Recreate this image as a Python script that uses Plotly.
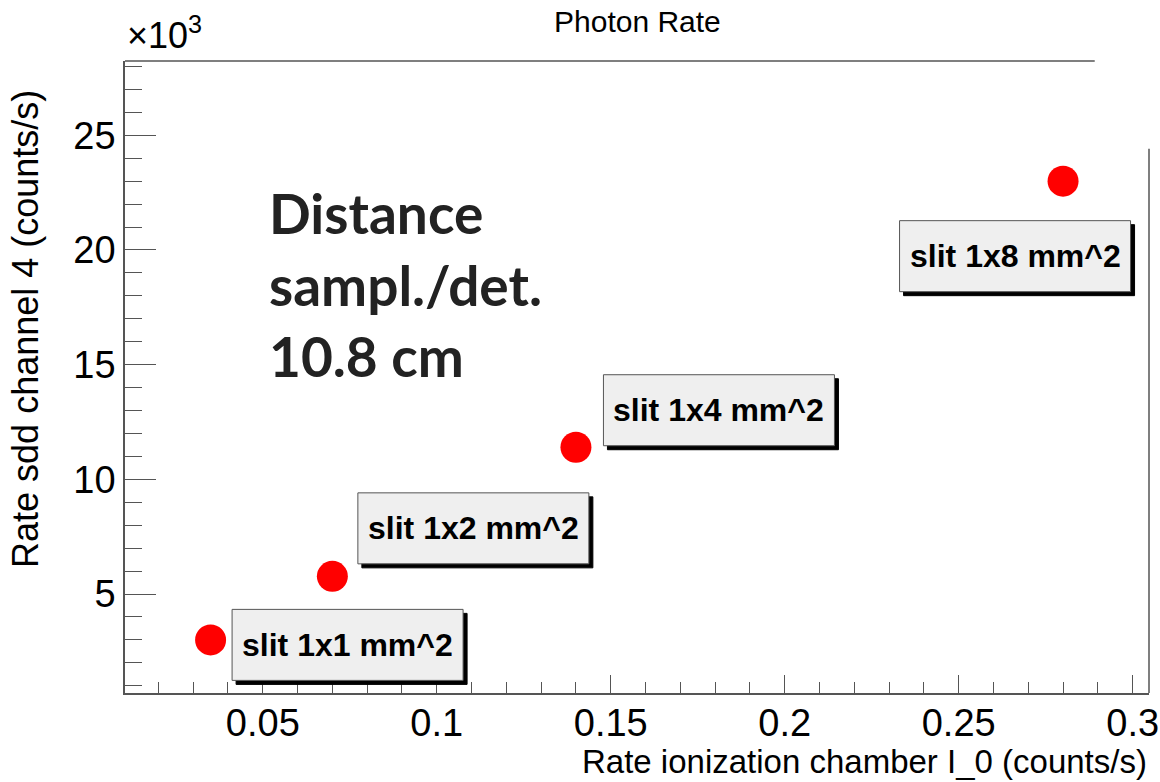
import plotly.graph_objects as go

# ---- data ----
x_rate_i0 = [0.035, 0.07, 0.14, 0.28]
y_rate_sdd = [3000, 5770, 11400, 23000]
slit_labels = ["slit 1x1 mm^2", "slit 1x2 mm^2", "slit 1x4 mm^2", "slit 1x8 mm^2"]
x_tick_vals = [0.05, 0.1, 0.15, 0.2, 0.25, 0.3]
x_tick_text = ["0.05", "0.1", "0.15", "0.2", "0.25", "0.3"]
y_tick_vals = [5000, 10000, 15000, 20000, 25000]
y_tick_text = ["5", "10", "15", "20", "25"]

# ---- style / placement ----
label_dx = [137, 141, 143, -48]
label_dy = [-5, 48, 37, -75]
BOX_W, BOX_H, SHADOW = 231, 71, 4
REG = "Liberation Sans, Arial, sans-serif"
AX = "#555555"

fig = go.Figure()
fig.add_trace(go.Scatter(
    x=x_rate_i0, y=y_rate_sdd, mode="markers",
    marker=dict(color="#ff0000", size=31, line=dict(width=0)),
    showlegend=False, hoverinfo="skip"))

shapes = [
    dict(type="line", xref="paper", yref="paper", x0=0, x1=0.947, y0=1, y1=1,
         line=dict(color=AX, width=1.5)),
    dict(type="line", xref="paper", yref="paper", x0=1, x1=1, y0=0, y1=0.861,
         line=dict(color=AX, width=1.5)),
]
anns = []
for xv, yv, t, dx, dy in zip(x_rate_i0, y_rate_sdd, slit_labels, label_dx, label_dy):
    for off, fill, lc in ((SHADOW, "#000000", "#000000"), (0, "#efefef", "#555555")):
        shapes.append(dict(
            type="rect", xref="x", yref="y",
            xsizemode="pixel", ysizemode="pixel", xanchor=xv, yanchor=yv,
            x0=dx - BOX_W / 2 + off, x1=dx + BOX_W / 2 + off,
            y0=dy - BOX_H / 2 - off, y1=dy + BOX_H / 2 - off,
            fillcolor=fill, line=dict(color=lc, width=1), layer="above"))
    anns.append(dict(x=xv, y=yv, xref="x", yref="y", showarrow=False,
                     text="<b>%s</b>" % t, xshift=dx, yshift=dy,
                     xanchor="center", yanchor="middle",
                     font=dict(family=REG, size=32, color="#000000")))

anns += [
    dict(text="Photon Rate", x=0.5, y=1.063, xref="paper", yref="paper",
         showarrow=False, xanchor="center", yanchor="middle",
         font=dict(family=REG, size=30, color="#000")),
    dict(text="×10<sup>3</sup>", x=0.0, y=1.005, xref="paper", yref="paper",
         showarrow=False, xanchor="left", yanchor="bottom",
         font=dict(family=REG, size=36, color="#000")),
    dict(text="Rate ionization chamber I_0 (counts/s)", x=1.0, y=-0.109,
         xref="paper", yref="paper", showarrow=False, xanchor="right",
         yanchor="middle", font=dict(family=REG, size=33, color="#000")),
    dict(text="Rate sdd channel 4 (counts/s)", x=-0.0967, y=0.576,
         xref="paper", yref="paper", showarrow=False, textangle=-90,
         xanchor="center", yanchor="middle",
         font=dict(family=REG, size=36, color="#000")),
    dict(text="<b>Distance<br>sampl./det.<br>10.8 cm</b>", x=0.139, y=0.815,
         xref="paper", yref="paper", showarrow=False, xanchor="left",
         yanchor="top", align="left",
         font=dict(family="Lato, Open Sans, sans-serif", size=55, color="#222")),
]

fig.update_layout(
    width=1160, height=782, margin=dict(l=125, r=11, t=61, b=89, autoexpand=False),
    paper_bgcolor="white", plot_bgcolor="white",
    annotations=anns, shapes=shapes,
    xaxis=dict(range=[0.0104, 0.3047], showgrid=False, zeroline=False,
               automargin=False,
               showline=True, linecolor=AX, linewidth=1.5,
               tickvals=x_tick_vals, ticktext=x_tick_text,
               ticks="inside", ticklen=18, tickcolor=AX, tickwidth=1.2,
               ticklabeloverflow="allow", ticklabelstandoff=-4,
               minor=dict(dtick=0.01, tick0=0, ticks="inside", ticklen=11,
                          tickcolor=AX, tickwidth=1.2),
               tickfont=dict(family=REG, size=38, color="#000")),
    yaxis=dict(range=[684, 28239], showgrid=False, zeroline=False,
               automargin=False,
               showline=True, linecolor=AX, linewidth=1.5,
               tickvals=y_tick_vals, ticktext=y_tick_text,
               ticks="inside", ticklen=31, tickcolor=AX, tickwidth=1.2,
               ticklabeloverflow="allow",
               minor=dict(dtick=1000, tick0=0, ticks="inside", ticklen=17,
                          tickcolor=AX, tickwidth=1.2),
               tickfont=dict(family=REG, size=38, color="#000")),
)

fig.write_html("out.html")
